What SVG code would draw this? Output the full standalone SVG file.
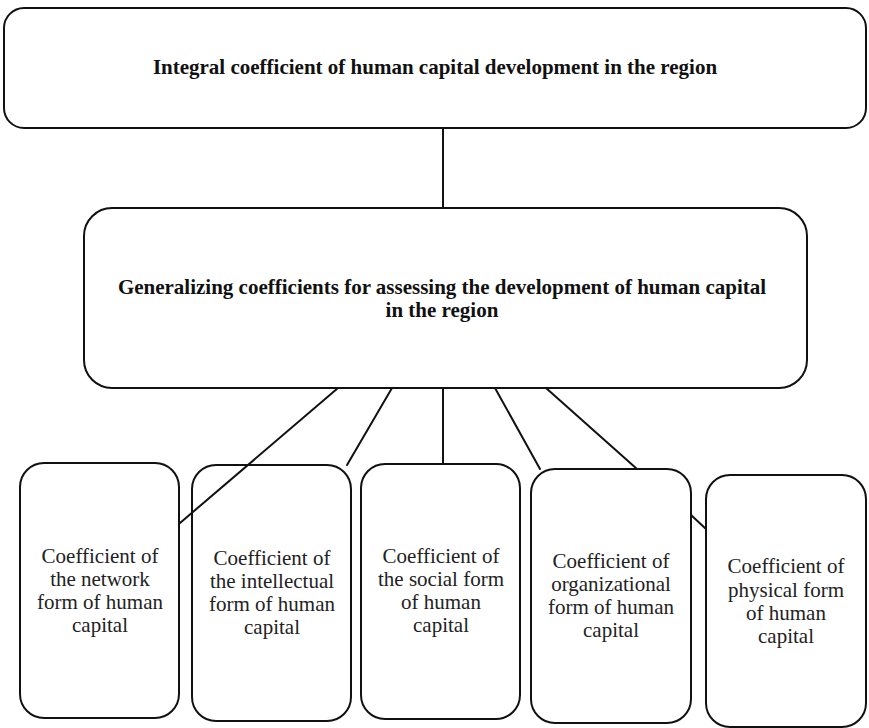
<svg xmlns="http://www.w3.org/2000/svg" width="869" height="728" viewBox="0 0 869 728">
  <style>
    .box { fill: #ffffff; stroke: #111111; stroke-width: 2; }
    .wire { stroke: #111111; stroke-width: 2; fill: none; stroke-linecap: round; }
    .head { font-family: 'Liberation Serif', 'DejaVu Serif', serif; font-weight: bold; font-size: 21px; fill: #111111; text-anchor: middle; }
    .item { font-family: 'Liberation Serif', 'DejaVu Serif', serif; font-size: 21px; fill: #222222; text-anchor: middle; }
  </style>
  <rect width="869" height="728" fill="#ffffff"/>

  <g id="integral">
    <rect class="box" x="4" y="8" width="862" height="120" rx="20" ry="20"/>
    <text class="head" x="435" y="74">Integral coefficient of human capital development in the region</text>
  </g>

  <g id="generalizing">
    <rect class="box" x="84" y="208" width="723" height="180" rx="28" ry="28"/>
    <text class="head" x="442" y="294">Generalizing coefficients for assessing the development of human capital</text>
    <text class="head" x="442" y="317">in the region</text>
  </g>

  <g id="network">
    <rect class="box" x="20" y="463" width="159" height="255" rx="24" ry="24"/>
    <text class="item" x="100" y="563">Coefficient of</text>
    <text class="item" x="100" y="586">the network</text>
    <text class="item" x="100" y="609">form of human</text>
    <text class="item" x="100" y="632">capital</text>
  </g>

  <g id="intellectual">
    <rect class="box" x="192" y="465" width="159" height="256" rx="24" ry="24"/>
    <text class="item" x="272" y="565">Coefficient of</text>
    <text class="item" x="272" y="588">the intellectual</text>
    <text class="item" x="272" y="611">form of human</text>
    <text class="item" x="272" y="634">capital</text>
  </g>

  <g id="social">
    <rect class="box" x="361" y="464" width="159" height="255" rx="24" ry="24"/>
    <text class="item" x="441" y="563">Coefficient of</text>
    <text class="item" x="441" y="586">the social form</text>
    <text class="item" x="441" y="609">of human</text>
    <text class="item" x="441" y="632">capital</text>
  </g>

  <g id="organizational">
    <rect class="box" x="531" y="469" width="160" height="254" rx="24" ry="24"/>
    <text class="item" x="611" y="568">Coefficient of</text>
    <text class="item" x="611" y="591">organizational</text>
    <text class="item" x="611" y="614">form of human</text>
    <text class="item" x="611" y="637">capital</text>
  </g>

  <g id="physical">
    <rect class="box" x="706" y="475" width="160" height="252" rx="24" ry="24"/>
    <text class="item" x="786" y="573">Coefficient of</text>
    <text class="item" x="786" y="597">physical form</text>
    <text class="item" x="786" y="620">of human</text>
    <text class="item" x="786" y="643">capital</text>
  </g>

  <g id="connectors">
    <line class="wire" x1="443" y1="128" x2="443" y2="208"/>
    <line class="wire" x1="338" y1="388" x2="180" y2="523"/>
    <line class="wire" x1="392" y1="388" x2="347" y2="465"/>
    <line class="wire" x1="443" y1="388" x2="443" y2="464"/>
    <line class="wire" x1="495" y1="388" x2="540" y2="469"/>
    <line class="wire" x1="546" y1="388" x2="637" y2="469"/>
    <line class="wire" x1="691" y1="515" x2="706" y2="529"/>
  </g>
</svg>
